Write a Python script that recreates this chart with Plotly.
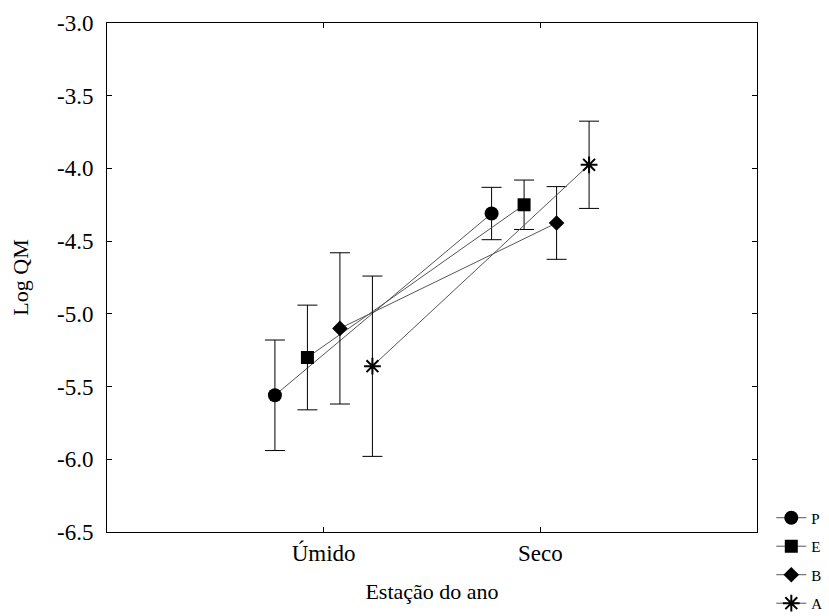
import plotly.graph_objects as go

categories = ["Úmido", "Seco"]
series_names = ["P", "E", "B", "A"]
means = {
    "P": [-5.56, -4.31],
    "E": [-5.30, -4.25],
    "B": [-5.10, -4.375],
    "A": [-5.36, -3.975],
}
errors = {
    "P": [0.38, 0.18],
    "E": [0.36, 0.17],
    "B": [0.52, 0.25],
    "A": [0.62, 0.30],
}
y_tickvals = [-3.0, -3.5, -4.0, -4.5, -5.0, -5.5, -6.0, -6.5]
y_ticktext = ["-3.0", "-3.5", "-4.0", "-4.5", "-5.0", "-5.5", "-6.0", "-6.5"]

offsets = {"P": -0.225, "E": -0.075, "B": 0.075, "A": 0.225}
markers = {
    "P": dict(symbol="circle", size=14, color="black"),
    "E": dict(symbol="square", size=13, color="black"),
    "B": dict(symbol="diamond", size=12, color="black"),
    "A": dict(symbol="asterisk-open", size=14, color="black",
              line=dict(color="black", width=2)),
}

FONT = "Liberation Serif, Times New Roman, serif"

fig = go.Figure()
for name in series_names:
    xs = [i + offsets[name] for i in range(len(categories))]
    fig.add_trace(go.Scatter(
        x=xs, y=means[name], name=name, mode="lines+markers",
        legendgroup=name,
        line=dict(color="#555555", width=1),
        marker=markers[name],
        error_y=dict(type="data", array=errors[name], visible=True,
                     color="black", thickness=1, width=10),
    ))

fig.update_layout(
    width=829, height=616,
    margin=dict(l=107, r=72, t=23, b=84, autoexpand=False),
    paper_bgcolor="white", plot_bgcolor="white",
    font=dict(family=FONT, size=22, color="black"),
    showlegend=True,
    legend=dict(x=1.022, xanchor="left", y=0.06, yanchor="top",
                font=dict(family=FONT, size=15, color="black"),
                bgcolor="rgba(0,0,0,0)", tracegroupgap=6),
)
fig.update_xaxes(
    range=[-1, 2], tickvals=[0, 1], ticktext=categories,
    showline=True, linecolor="black", linewidth=1, mirror="ticks",
    ticks="inside", ticklen=5, tickcolor="black",
    showgrid=False, zeroline=False,
    title=dict(text="Estação do ano", standoff=19, font=dict(size=22)),
    tickfont=dict(size=23),
)
fig.update_yaxes(
    range=[-6.5, -3.0], tickvals=y_tickvals, ticktext=y_ticktext,
    showline=True, linecolor="black", linewidth=1, mirror="ticks",
    ticks="inside", ticklen=5, tickcolor="black",
    showgrid=False, zeroline=False, ticklabelstandoff=8,
    title=dict(text="Log QM", standoff=22, font=dict(size=22)),
    tickfont=dict(size=23),
)

fig.write_html("out.html")
